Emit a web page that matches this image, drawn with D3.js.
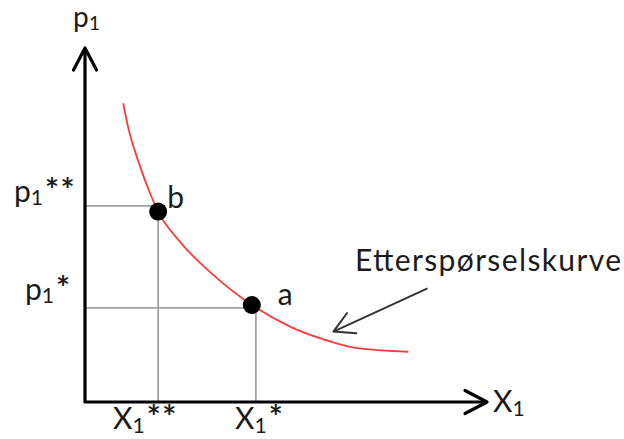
<!DOCTYPE html>
<html>
<head>
<meta charset="utf-8">
<script src="https://cdn.jsdelivr.net/npm/d3@7"></script>
<style>
  body { margin: 0; background: #fff; }
  svg { display: block; }
  text { font-family: Lato, "Open Sans", sans-serif; fill: #1c1c1c; }
</style>
</head>
<body>
<svg id="chart" width="624" height="439"></svg>
<script>
// Demand curve, traced as (quantity, price) pairs
const curveX = [9.5, 10.8, 13.3, 16.2, 18.2, 23.6, 31.9, 41.5, 51.0, 59.3, 67.6, 80.4];
const curveY = [84.4, 77.3, 67.9, 58.9, 53.8, 45.3, 35.9, 27.4, 21.3, 17.7, 15.2, 14.2];

// Marked points on the curve
const pointNames = ["b", "a"];
const pointX = [18.2, 41.5];
const pointY = [53.8, 27.4];

// Reference levels read down / across to the axes
const guideX = [18.2, 42.5];
const guideY = [55.4, 26.6];
const guideMarks = ["**", "*"];

// Axis titles and curve caption
const xTitle = "X";
const yTitle = "p";
const caption = "Etterspørselskurve";

const svg = d3.select("#chart");
const x = d3.scaleLinear().domain([0, 100]).range([85, 487]);
const y = d3.scaleLinear().domain([0, 100]).range([402, 48]);

const FS = 30; // label font size

// Open "V" arrow head at (tx, ty) pointing along angle ang
function arrowHead(g, tx, ty, ang, len, spread, w, color) {
  const p = d3.path();
  const a1 = ang + Math.PI - spread, a2 = ang + Math.PI + spread;
  p.moveTo(tx + len * Math.cos(a1), ty + len * Math.sin(a1));
  p.lineTo(tx, ty);
  p.lineTo(tx + len * Math.cos(a2), ty + len * Math.sin(a2));
  g.append("path").attr("d", p.toString()).attr("fill", "none")
    .attr("stroke", color).attr("stroke-width", w)
    .attr("stroke-linecap", "round").attr("stroke-linejoin", "round");
}

// Guide lines
const guides = svg.append("g").attr("stroke", "#a3a3a3").attr("stroke-width", 1.8);
guideX.forEach((gx, i) => {
  guides.append("line").attr("x1", x(0)).attr("x2", x(gx)).attr("y1", y(guideY[i])).attr("y2", y(guideY[i]));
  guides.append("line").attr("x1", x(gx)).attr("x2", x(gx)).attr("y1", y(guideY[i])).attr("y2", y(0));
});

// Axes with arrow heads
const axes = svg.append("g");
axes.append("path")
  .attr("d", `M${x(0)},${y(100)} L${x(0)},${y(0)} L${x(100)},${y(0)}`)
  .attr("fill", "none").attr("stroke", "#000").attr("stroke-width", 3.2)
  .attr("stroke-linejoin", "round");
const headLen = Math.hypot(22, 11.5), headSpread = Math.atan2(11.5, 22);
arrowHead(axes, x(0), y(100), -Math.PI / 2, headLen, headSpread, 3.2, "#000");
arrowHead(axes, x(100), y(0), 0, headLen, headSpread, 3.2, "#000");

// Demand curve
const curveData = curveX.map((d, i) => [d, curveY[i]]);
svg.append("path")
  .datum(curveData)
  .attr("d", d3.line().x(d => x(d[0])).y(d => y(d[1])).curve(d3.curveMonotoneX))
  .attr("fill", "none").attr("stroke", "#ff3c3c").attr("stroke-width", 1.8);

// Points and their letters
svg.append("g").selectAll("circle")
  .data(pointNames)
  .join("circle")
  .attr("cx", (d, i) => x(pointX[i]))
  .attr("cy", (d, i) => y(pointY[i]))
  .attr("r", 9)
  .attr("fill", "#000");

const pointLabelDx = [9, 26], pointLabelDy = [-4, 0];
svg.append("g").selectAll("text")
  .data(pointNames)
  .join("text")
  .attr("x", (d, i) => x(pointX[i]) + pointLabelDx[i])
  .attr("y", (d, i) => y(pointY[i]) + pointLabelDy[i])
  .attr("font-size", FS)
  .text(d => d);

// Label with subscript 1 and trailing marks
function subLabel(sel, base, marks, size) {
  const sub = size * 0.12;
  sel.append("tspan").text(base);
  sel.append("tspan").attr("font-size", size * 0.7).attr("dy", sub).text("1");
  if (marks) sel.append("tspan").attr("dy", -sub).attr("dx", 2)
    .attr("font-size", size * 1.1).attr("font-weight", 700)
    .attr("letter-spacing", 1.5).text(marks);
}

// Quantity labels under the x axis
const xLabelLeft = [113, 235];
guideX.forEach((gx, i) => {
  const t = svg.append("text").attr("x", xLabelLeft[i]).attr("y", 429)
    .attr("font-size", FS);
  subLabel(t, xTitle, guideMarks[i], FS);
});

// Price labels left of the y axis
const yLabelLeft = [14, 25], yLabelDy = [-4, -8];
guideY.forEach((gy, i) => {
  const t = svg.append("text").attr("x", yLabelLeft[i]).attr("y", y(gy) + yLabelDy[i])
    .attr("font-size", FS);
  subLabel(t, yTitle, guideMarks[i], FS);
});

// Axis titles
subLabel(svg.append("text").attr("x", 73).attr("y", 27).attr("font-size", 28), yTitle, "", 28);
subLabel(svg.append("text").attr("x", 493).attr("y", 412).attr("font-size", FS), xTitle, "", FS);

// Caption with pointer to the curve
svg.append("text").attr("x", 355).attr("y", 271).attr("font-size", FS)
  .attr("textLength", 266).attr("lengthAdjust", "spacing").text(caption);
const ptr = svg.append("g");
const sx = x(85.2), sy = y(32.1), tx = x(61.8), ty = y(19.9);
ptr.append("line").attr("x1", sx).attr("y1", sy).attr("x2", tx).attr("y2", ty)
  .attr("stroke", "#333").attr("stroke-width", 2);
arrowHead(ptr, tx, ty, Math.atan2(ty - sy, tx - sx), 23, 29 * Math.PI / 180, 2, "#333");
</script>
</body>
</html>
